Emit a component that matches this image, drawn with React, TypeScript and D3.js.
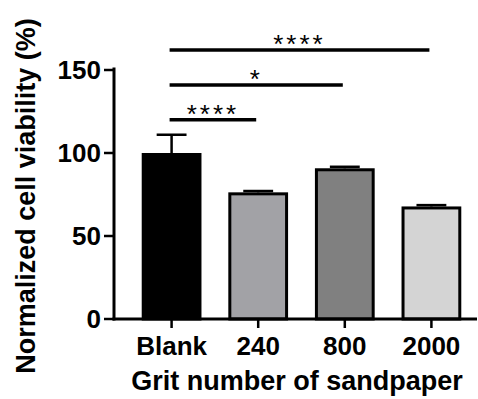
import { useEffect, useRef } from 'react'
import * as d3 from 'd3'

const categories = ['Blank', '240', '800', '2000']
const viability = [100, 76.3, 90.8, 67.8]
const errorUp = [11, 0.8, 0.9, 0.8]
const barColors = ['#000000', '#a2a2a6', '#808080', '#d4d4d4']
const yTicks = [0, 50, 100, 150]

// significance brackets: from Blank to target, drawn at a y level
const sigTargets = ['2000', '800', '240']
const sigLabels = ['****', '*', '****']
const sigLevels = [162, 141, 120]

const FONT = 'Arial, "Liberation Sans", Helvetica, sans-serif'

export default function App() {
  const svgRef = useRef<SVGSVGElement>(null)

  useEffect(() => {
    if (!svgRef.current) return
    const svg = d3.select(svgRef.current)
    svg.selectAll('*').remove()

    const width = 478
    const height = 399
    svg.attr('width', width).attr('height', height)

    const x0 = 114
    const yBase = 319

    const x = d3.scaleBand<string>()
      .domain(categories)
      .range([x0, 489])
      .paddingInner(0.31)
      .paddingOuter(0.32)

    const y = d3.scaleLinear().domain([0, 150]).range([yBase, 70])

    const cx = (c: string) => (x(c) || 0) + x.bandwidth() / 2

    // bars
    const bw = x.bandwidth()
    svg.append('g')
      .selectAll('rect')
      .data(categories)
      .enter()
      .append('rect')
      .attr('x', d => (x(d) || 0) + 1.5)
      .attr('y', (d, i) => y(viability[i]) + 1.5)
      .attr('width', bw - 3)
      .attr('height', (d, i) => yBase - y(viability[i]) - 1.5)
      .attr('fill', (d, i) => barColors[i])
      .attr('stroke', '#000')
      .attr('stroke-width', 3)

    // error bars (upper only)
    const eb = svg.append('g').attr('stroke', '#000').attr('stroke-width', 2.5)
    categories.forEach((c, i) => {
      const top = y(viability[i] + errorUp[i])
      eb.append('line')
        .attr('x1', cx(c)).attr('x2', cx(c))
        .attr('y1', y(viability[i])).attr('y2', top)
      eb.append('line')
        .attr('x1', cx(c) - bw / 4).attr('x2', cx(c) + bw / 4)
        .attr('y1', top).attr('y2', top)
    })

    // y axis
    const ax = svg.append('g').attr('stroke', '#000')
    ax.append('line')
      .attr('x1', x0).attr('x2', x0)
      .attr('y1', yBase + 1.5).attr('y2', y(150) - 2.5)
      .attr('stroke-width', 3)
    yTicks.forEach(t => {
      ax.append('line')
        .attr('x1', x0 - 10).attr('x2', x0)
        .attr('y1', y(t)).attr('y2', y(t))
        .attr('stroke-width', 2.5)
    })
    svg.append('g')
      .selectAll('text')
      .data(yTicks)
      .enter()
      .append('text')
      .attr('x', x0 - 13)
      .attr('y', d => y(d))
      .attr('dy', '0.35em')
      .attr('text-anchor', 'end')
      .style('font-family', FONT)
      .style('font-weight', 'bold')
      .style('font-size', '26px')
      .text(d => String(d))

    // x axis
    ax.append('line')
      .attr('x1', x0 - 1.5).attr('x2', 477)
      .attr('y1', yBase).attr('y2', yBase)
      .attr('stroke-width', 3)
    categories.forEach(c => {
      ax.append('line')
        .attr('x1', cx(c)).attr('x2', cx(c))
        .attr('y1', yBase).attr('y2', yBase + 9)
        .attr('stroke-width', 2.5)
    })
    svg.append('g')
      .selectAll('text')
      .data(categories)
      .enter()
      .append('text')
      .attr('x', d => cx(d))
      .attr('y', 355)
      .attr('text-anchor', 'middle')
      .style('font-family', FONT)
      .style('font-weight', 'bold')
      .style('font-size', '26px')
      .text(d => d)

    // axis titles
    svg.append('text')
      .attr('x', 297)
      .attr('y', 390)
      .attr('text-anchor', 'middle')
      .style('font-family', FONT)
      .style('font-weight', 'bold')
      .style('font-size', '27px')
      .text('Grit number of sandpaper')

    svg.append('text')
      .attr('transform', 'translate(35,196) rotate(-90)')
      .attr('text-anchor', 'middle')
      .style('font-family', FONT)
      .style('font-weight', 'bold')
      .style('font-size', '27px')
      .text('Normalized cell viability (%)')

    // significance lines
    const sg = svg.append('g')
    sigTargets.forEach((t, i) => {
      const yy = y(sigLevels[i])
      const xa = cx(categories[0]) - 2
      const xb = cx(t) - 2
      sg.append('line')
        .attr('x1', xa).attr('x2', xb)
        .attr('y1', yy).attr('y2', yy)
        .attr('stroke', '#000')
        .attr('stroke-width', 3.5)
      sg.append('text')
        .attr('x', (xa + xb) / 2)
        .attr('y', yy + 3)
        .attr('text-anchor', 'middle')
        .style('font-family', FONT)
        .style('font-size', '26px')
        .style('letter-spacing', '3px')
        .text(sigLabels[i])
    })
  }, [])

  return (
    <svg
      ref={svgRef}
      style={{ position: 'absolute', left: 0, top: 0, background: '#fff' }}
    />
  )
}
